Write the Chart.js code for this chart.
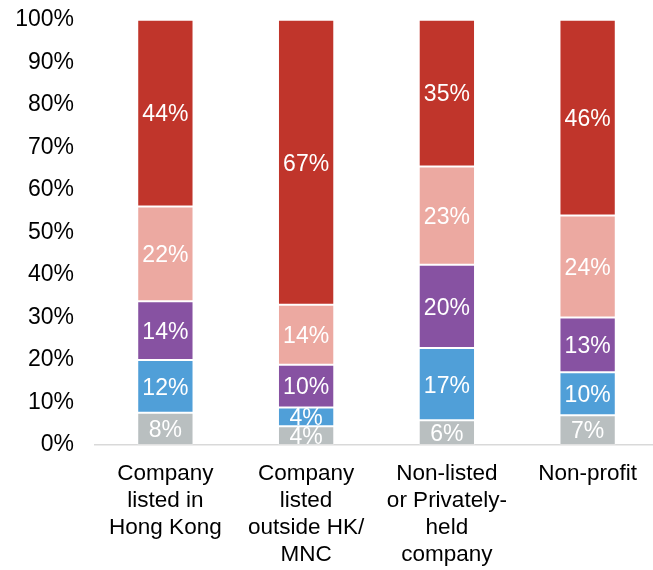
<!DOCTYPE html>
<html>
<head>
<meta charset="utf-8">
<script src="https://cdn.jsdelivr.net/npm/chart.js@4/dist/chart.umd.min.js"></script>
<style>
  html, body { margin: 0; padding: 0; background: #fff; overflow: hidden; }
  #wrap { width: 658px; height: 570px; overflow: hidden; }
  #chart { display: block; margin-top: -7px; }
</style>
</head>
<body>
<div id="wrap"><canvas id="chart" width="658" height="577"></canvas></div>
<script>
// Organisation types (multi-line axis labels)
const categories = [
  ['Company', 'listed in', 'Hong Kong'],
  ['Company', 'listed', 'outside HK/', 'MNC'],
  ['Non-listed', 'or Privately-', 'held', 'company'],
  ['Non-profit']
];

// Shares (%) per organisation type, stacked bottom to top
const level1 = [7.6, 4.4, 5.8, 7.0];
const level2 = [12.4, 4.4, 17.0, 10.1];
const level3 = [13.8, 10.1, 19.6, 12.9];
const level4 = [22.3, 14.1, 23.1, 24.0];
const level5 = [43.9, 67.0, 34.5, 46.0];

const yTicks = [0, 10, 20, 30, 40, 50, 60, 70, 80, 90, 100];

const colors = ['#B9BFC0', '#509FD8', '#8752A2', '#ECA9A1', '#C0352B'];
const seriesNames = ['Level 1', 'Level 2', 'Level 3', 'Level 4', 'Level 5'];
const seriesData = [level1, level2, level3, level4, level5];

const FONT = "'Liberation Sans', Arial, sans-serif";

// White percentage labels centred in each segment, clipped to the plot area
const segmentLabels = {
  id: 'segmentLabels',
  afterDatasetsDraw(chart) {
    const { ctx, chartArea } = chart;
    ctx.save();
    ctx.beginPath();
    ctx.rect(chartArea.left, chartArea.top, chartArea.right - chartArea.left, chartArea.bottom - chartArea.top);
    ctx.clip();
    ctx.fillStyle = '#ffffff';
    ctx.font = '23px ' + FONT;
    ctx.textAlign = 'center';
    ctx.textBaseline = 'middle';
    chart.data.datasets.forEach((ds, i) => {
      const meta = chart.getDatasetMeta(i);
      meta.data.forEach((bar, j) => {
        const v = ds.data[j];
        const y = (bar.y + bar.base) / 2;
        ctx.fillText(Math.round(v) + '%', bar.x, y + 2);
      });
    });
    ctx.restore();
  }
};

new Chart(document.getElementById('chart'), {
  type: 'bar',
  data: {
    labels: categories,
    datasets: seriesData.map((d, i) => ({
      label: seriesNames[i],
      data: d,
      backgroundColor: colors[i],
      borderColor: 'rgba(255,255,255,0.2)',
      borderWidth: 1,
      borderSkipped: false,
      categoryPercentage: 1.0,
      barPercentage: 0.4
    }))
  },
  options: {
    responsive: false,
    animation: false,
    layout: { padding: { left: 0, right: 0, top: 6, bottom: 0 } },
    plugins: {
      legend: { display: false },
      tooltip: { enabled: false }
    },
    scales: {
      x: {
        stacked: true,
        grid: { display: false },
        border: { display: true, color: '#D9D9D9', width: 1.5 },
        ticks: {
          color: '#000000',
          font: { family: FONT, size: 22.5, lineHeight: 1.2 },
          padding: 7,
          maxRotation: 0,
          autoSkip: false
        },
        afterFit(scale) { scale.height = 125; }
      },
      y: {
        stacked: true,
        min: 0,
        max: 100,
        grid: { display: false },
        border: { display: false },
        afterBuildTicks(scale) { scale.ticks = yTicks.map(v => ({ value: v })); },
        ticks: {
          color: '#000000',
          font: { family: FONT, size: 23 },
          padding: 13,
          callback: v => v + '%'
        },
        afterFit(scale) { scale.width = 95; }
      }
    }
  },
  plugins: [segmentLabels]
});
</script>
</body>
</html>
